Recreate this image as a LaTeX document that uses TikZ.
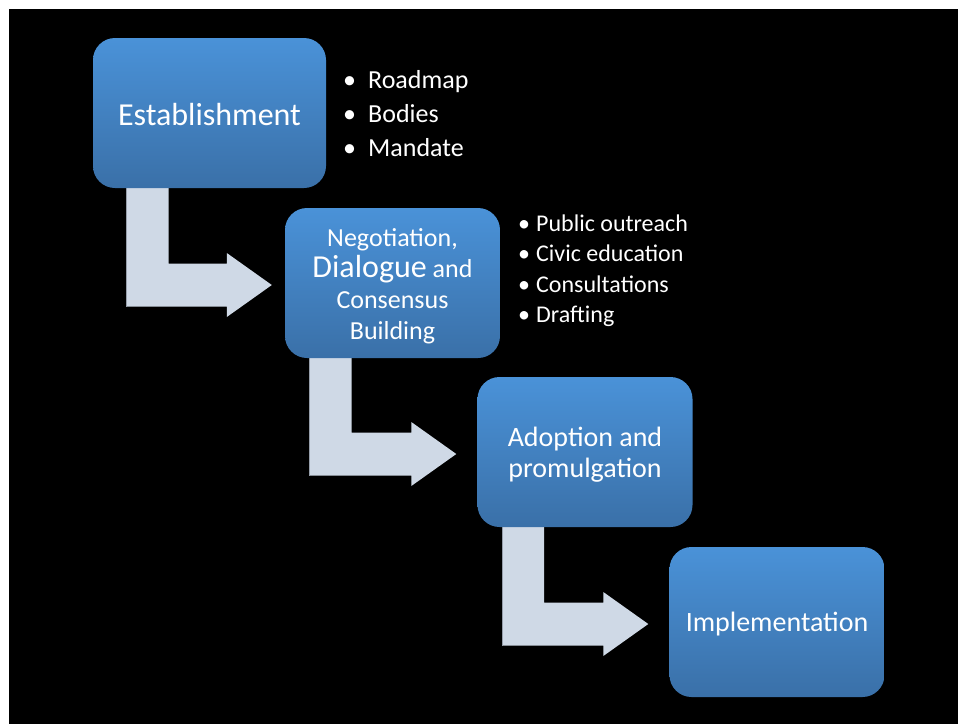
\documentclass[tikz,border=0pt]{standalone}
\usepackage{fontspec}
\setmainfont{Carlito}
\usetikzlibrary{calc}
\definecolor{boxtop}{RGB}{74,146,216}
\definecolor{boxbot}{RGB}{58,112,168}
\definecolor{arrowc}{RGB}{207,217,230}
\definecolor{arrowedge}{RGB}{150,158,170}
\pgfdeclarelayer{back}
\pgfdeclarelayer{under}
\pgfsetlayers{back,under,main}
\newcommand\stepshape[4]{%
  % #1 from box, #2 to box, #3 tip x offset from west, #4 tip y offset
  \coordinate (sl) at ($(#1.south)+(-83,-4)$);
  \coordinate (sr) at ($(#1.south)+(-41,-4)$);
  \coordinate (tip) at ($(#2.west)+(#3,#4)$);
  \coordinate (tu) at ($(tip)+(0,-21.5)$);
  \coordinate (td) at ($(tip)+(0,21.5)$);
  \coordinate (hbu) at ($(tip)+(-45,-21.5)$);
  \coordinate (hbd) at ($(tip)+(-45,21.5)$);
  \coordinate (hu) at ($(tip)+(-45,-32)$);
  \coordinate (hd) at ($(tip)+(-45,32)$);
  \begin{pgfonlayer}{under}
  \fill[arrowc] (sl) -- (sr) -- (sr |- tu) -- (hbu) -- (hu) -- (tip)
     -- (hd) -- (hbd) -- (sl |- td) -- cycle;
  \draw[arrowedge, line width=0.8pt] (sl) -- (sl |- td);
  \end{pgfonlayer}
}
\begin{document}
\begin{tikzpicture}[x=1pt,y=-1pt,
  box/.style={rounded corners=22pt, top color=boxtop, bottom color=boxbot,
    minimum width=215pt, minimum height=150pt, inner sep=0pt},
  boxtext/.style={inner sep=0pt, text=white, align=center},
  item/.style={anchor=base west, inner sep=0pt, text=white}]
\begin{pgfonlayer}{back}
\useasboundingbox (0,0) rectangle (958,724);
\fill[white] (0,0) rectangle (958,724);
\fill[black] (9,9) rectangle (958,724);
\end{pgfonlayer}

\node[box, minimum width=233pt] (b1) at (209.5,113) {};
\node[box] (b2) at (392.5,283) {};
\node[box] (b3) at (585,452) {};
\node[box] (b4) at (777,622) {};

\node[boxtext, font=\fontsize{32}{38}\selectfont] (t1) at ($(b1)+(0,2)$) {Establishment};
\node[boxtext, font=\fontsize{26}{31}\selectfont] (t2) at ($(b2)+(0,3.5)$)
  {Negotiation,\\{\fontsize{32}{31}\selectfont Dialogue} and\\Consensus\\Building};
\node[boxtext, font=\fontsize{28}{31}\selectfont] (t3) at ($(b3)+(0,3)$) {Adoption and\\promulgation};
\node[boxtext, font=\fontsize{28}{34}\selectfont] (t4) at ($(b4)+(0,2)$) {Implementation};

\stepshape{b1}{b2}{-13}{2}
\stepshape{b2}{b3}{-21}{2}
\stepshape{b3}{b4}{-21}{2}

\begin{scope}[font=\fontsize{26}{30}\selectfont]
\node[item] (r1) at (343,88) {\makebox[25pt][l]{•}Roadmap};
\node[item] (r2) at (343,122) {\makebox[25pt][l]{•}Bodies};
\node[item] (r3) at (343,156) {\makebox[25pt][l]{•}Mandate};
\end{scope}
\begin{scope}[font=\fontsize{24}{28}\selectfont]
\node[item] (p1) at (518,231) {\makebox[18pt][l]{•}Public outreach};
\node[item] (p2) at (518,261) {\makebox[18pt][l]{•}Civic education};
\node[item] (p3) at (518,292) {\makebox[18pt][l]{•}Consultations};
\node[item] (p4) at (518,322) {\makebox[18pt][l]{•}Drafting};
\end{scope}
\end{tikzpicture}
\end{document}
